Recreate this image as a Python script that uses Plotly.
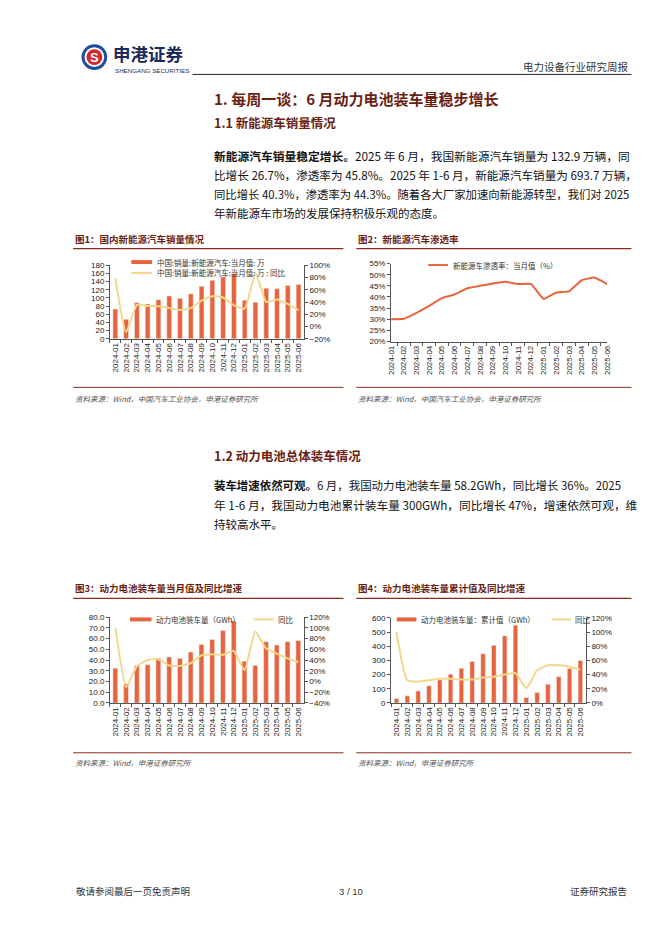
import plotly.graph_objects as go

W, H = 662, 936
def X(px): return px / W
def Y(py): return 1 - py / H

# ---------------- data ----------------
months = ["2024-01", "2024-02", "2024-03", "2024-04", "2024-05", "2024-06",
          "2024-07", "2024-08", "2024-09", "2024-10", "2024-11", "2024-12",
          "2025-01", "2025-02", "2025-03", "2025-04", "2025-05", "2025-06"]
nev_sales = [72.9, 47.7, 88.3, 85.0, 95.5, 104.9, 99.1, 110.0, 128.7, 143.0, 151.2, 159.6,
             94.4, 89.2, 123.7, 122.6, 130.7, 132.9]
nev_sales_yoy = [78.8, -9.2, 35.3, 33.5, 33.3, 30.1, 27.0, 30.0, 42.3, 49.6, 47.4, 34.5,
                 29.4, 87.1, 40.1, 44.2, 36.9, 26.7]
nev_penetration = [30.0, 30.2, 32.9, 36.0, 39.5, 41.1, 43.9, 45.0, 46.0, 46.8, 45.8, 45.9,
                   39.1, 42.0, 42.5, 47.5, 48.7, 45.8]
battery_monthly = [32.3, 18.0, 35.0, 35.6, 41.7, 42.8, 41.6, 47.5, 54.5, 59.2, 67.5, 76.3,
                   39.0, 35.0, 57.1, 54.0, 57.1, 58.2]
battery_monthly_yoy = [100.0, -11.0, 28.4, 40.0, 41.5, 30.0, 29.0, 34.0, 49.0, 51.0, 50.0, 57.0,
                       21.0, 93.0, 62.0, 52.0, 43.0, 36.0]
battery_cum = [32.3, 50.3, 85.3, 120.8, 162.5, 203.3, 245.0, 292.5, 347.0, 406.3, 473.8, 548.4,
               39.0, 74.1, 131.2, 185.2, 242.3, 300.0]
battery_cum_yoy = [100.0, 32.0, 30.0, 32.0, 34.0, 34.0, 33.0, 33.0, 36.0, 37.0, 40.0, 42.0,
                   21.0, 46.0, 53.0, 53.0, 51.0, 47.0]

# ---------------- styles ----------------
BAR = "#E8643C"
GOLD = "#F3D88C"
MAROON = "#6B1E12"
AX = "#555555"
NUM = "Liberation Sans, Arial, Noto Sans CJK SC"
CJK = "Noto Sans CJK SC, Liberation Sans"

fig = go.Figure()

# chart 1
fig.add_trace(go.Bar(x=months, y=nev_sales, xaxis="x", yaxis="y", marker_color=BAR, width=0.45))
fig.add_trace(go.Scatter(x=months, y=nev_sales_yoy, xaxis="x", yaxis="y2", mode="lines",
                         line=dict(color=GOLD, width=2, shape="spline", smoothing=0.5)))
# chart 2
fig.add_trace(go.Scatter(x=months, y=nev_penetration, xaxis="x3", yaxis="y3", mode="lines",
                         line=dict(color=BAR, width=2, shape="spline", smoothing=0.3)))
# chart 3
fig.add_trace(go.Bar(x=months, y=battery_monthly, xaxis="x4", yaxis="y4", marker_color=BAR, width=0.45))
fig.add_trace(go.Scatter(x=months, y=battery_monthly_yoy, xaxis="x4", yaxis="y5", mode="lines",
                         line=dict(color=GOLD, width=2, shape="spline", smoothing=0.4)))
# chart 4
fig.add_trace(go.Bar(x=months, y=battery_cum, xaxis="x5", yaxis="y6", marker_color=BAR, width=0.42))
fig.add_trace(go.Scatter(x=months, y=battery_cum_yoy, xaxis="x5", yaxis="y7", mode="lines",
                         line=dict(color=GOLD, width=2, shape="spline", smoothing=0.5)))

def xax(x0, x1, anchor):
    return dict(domain=[X(x0), X(x1)], anchor=anchor, type="category", categoryorder="array",
                categoryarray=months, tickangle=-90, showline=True, linecolor=AX, linewidth=1,
                ticks="outside", ticklen=3, tickcolor=AX, tickson="boundaries",
                tickfont=dict(size=8, color="#222", family=NUM), showgrid=False, zeroline=False)

def yax(y_bottom, y_top, anchor, rng, dtick, suffix="", fmt=None, side="left", overlay=None):
    d = dict(anchor=anchor, range=rng, dtick=dtick, tick0=rng[0], ticksuffix=suffix, side=side,
             showline=True, linecolor=AX, linewidth=1, ticks="outside", ticklen=3, tickcolor=AX,
             tickfont=dict(size=8, color="#222", family=NUM), showgrid=False, zeroline=False)
    if fmt:
        d["tickformat"] = fmt
    if overlay:
        d["overlaying"] = overlay
    else:
        d["domain"] = [Y(y_bottom), Y(y_top)]
    return d

layout = dict(
    width=W, height=H, margin=dict(l=0, r=0, t=0, b=0),
    paper_bgcolor="white", plot_bgcolor="white", showlegend=False, bargap=0.5,
    xaxis=xax(99.3, 296, "y"),
    yaxis=yax(330, 255.7, "x", [0, 180], 20),
    yaxis2=yax(None, None, "x", [-20, 100], 20, "%", side="right", overlay="y"),
    xaxis3=xax(384.3, 603.3, "y3"),
    yaxis3=yax(332.7, 254, "x3", [20, 55], 5, "%"),
    xaxis4=xax(99.3, 295.7, "y4"),
    yaxis4=yax(697.7, 611, "x4", [0, 80], 10, fmt=".1f"),
    yaxis5=yax(None, None, "x4", [-40, 120], 20, "%", side="right", overlay="y4"),
    xaxis5=xax(384.3, 581.7, "y6"),
    yaxis6=yax(697.7, 611.7, "x5", [0, 600], 100),
    yaxis7=yax(None, None, "x5", [0, 120], 20, "%", side="right", overlay="y6"),
)
fig.update_layout(**layout)

ann = []
shapes = []

def txt(x, y, s, size, color="#222", anchor="left", family=CJK, yanchor="middle"):
    ann.append(dict(x=X(x), y=Y(y), xref="paper", yref="paper", text=s, showarrow=False,
                    xanchor=anchor, yanchor=yanchor, align=anchor if anchor != "center" else "center",
                    font=dict(size=size, color=color, family=family)))

def hline(x0, x1, y, color, width=1):
    shapes.append(dict(type="line", xref="paper", yref="paper", x0=X(x0), x1=X(x1), y0=Y(y), y1=Y(y),
                       line=dict(color=color, width=width)))

def rect(x0, x1, y0, y1, color):
    shapes.append(dict(type="rect", xref="paper", yref="paper", x0=X(x0), x1=X(x1), y0=Y(y0), y1=Y(y1),
                       line=dict(width=0), fillcolor=color))

# ---- header / logo ----
shapes.append(dict(type="circle", xref="paper", yref="paper", x0=X(70.5), x1=X(96.5), y0=Y(58.5), y1=Y(32.5),
                   fillcolor="#1F4E9C", line=dict(width=0)))
shapes.append(dict(type="circle", xref="paper", yref="paper", x0=X(73.5), x1=X(93.5), y0=Y(55.5), y1=Y(35.5),
                   fillcolor="white", line=dict(width=0)))
shapes.append(dict(type="circle", xref="paper", yref="paper", x0=X(75.5), x1=X(91.5), y0=Y(53.5), y1=Y(37.5),
                   fillcolor="#D7262B", line=dict(width=0)))
txt(83.5, 45.5, "<b>S</b>", 13, "white", "center", "Liberation Sans")
txt(100, 42, "<b>申港证券</b>", 17.5, "#1B2A5A")
txt(102, 59, "SHENGANG SECURITIES", 6.2, "#1B2A5A", family="Liberation Sans")
hline(183, 628, 63, "#222", 1)
txt(628, 55, "电力设备行业研究周报", 10.5, "#333", "right")

# ---- section 1 ----
txt(203, 87, "<b>1. 每周一谈：6 月动力电池装车量稳步增长</b>", 15, MAROON)
txt(203, 112, "<b>1.1 新能源车销量情况</b>", 12.5, MAROON)
para1 = ["<b>新能源汽车销量稳定增长。</b>2025 年 6 月，我国新能源汽车销量为 132.9 万辆，同",
         "比增长 26.7%，渗透率为 45.8%。2025 年 1-6 月，新能源汽车销量为 693.7 万辆，",
         "同比增长 40.3%，渗透率为 44.3%。随着各大厂家加速向新能源转型，我们对 2025",
         "年新能源车市场的发展保持积极乐观的态度。"]
para1_sizes = [11.75, 11.6, 11.35, 11.5]
for i, line in enumerate(para1):
    txt(203, 145 + i * 19.3, line, para1_sizes[i], "#111")

# ---- figure 1 / 2 titles ----
txt(62, 229, "<b>图1：国内新能源汽车销量情况</b>", 9.5, MAROON)
txt(349, 229, "<b>图2：新能源汽车渗透率</b>", 9.5, MAROON)
hline(62, 336, 239, "#8A2A1A", 1.2)
hline(349, 628, 239, "#8A2A1A", 1.2)

# legends chart 1
rect(121, 142, 250.5, 254.5, BAR)
txt(145, 252.5, "中国:销量:新能源汽车:当月值: 万", 7.5, "#333")
hline(121, 142, 263.5, GOLD, 2)
txt(145, 263.5, "中国:销量:新能源汽车:当月值: 万 : 同比", 7.5, "#333")
# legend chart 2
hline(422, 442, 255.5, BAR, 2)
txt(445, 255.5, "新能源车渗透率：当月值（%）", 7.5, "#333")

hline(62, 336, 379, "#8A2A1A", 1)
hline(349, 628, 379, "#8A2A1A", 1)
txt(62, 390, "<i>资料来源：Wind，中国汽车工业协会，申港证券研究所</i>", 7.5, "#555")
txt(349, 390, "<i>资料来源：Wind，中国汽车工业协会，申港证券研究所</i>", 7.5, "#555")

# ---- section 1.2 ----
txt(203, 448, "<b>1.2 动力电池总体装车情况</b>", 12.5, MAROON)
para2 = ["<b>装车增速依然可观。</b>6 月，我国动力电池装车量 58.2GWh，同比增长 36%。2025",
         "年 1-6 月，我国动力电池累计装车量 300GWh，同比增长 47%，增速依然可观，维",
         "持较高水平。"]
para2_sizes = [11.45, 11.7, 11.5]
for i, line in enumerate(para2):
    txt(203, 478 + i * 19.3, line, para2_sizes[i], "#111")

# ---- figure 3 / 4 ----
txt(62, 582, "<b>图3：动力电池装车量当月值及同比增速</b>", 9.5, MAROON)
txt(349, 582, "<b>图4：动力电池装车量累计值及同比增速</b>", 9.5, MAROON)
hline(62, 336, 592, "#8A2A1A", 1.2)
hline(349, 628, 592, "#8A2A1A", 1.2)

rect(119.5, 141.5, 611.3, 615.3, BAR)
txt(144, 613.3, "动力电池装车量（GWh）", 7.5, "#333")
hline(245, 265, 613.3, GOLD, 2)
txt(268, 613.3, "同比", 7.5, "#333")

rect(390, 410, 611.3, 615.3, BAR)
txt(413, 613.3, "动力电池装车量：累计值（GWh）", 7.5, "#333")
hline(547, 567, 613.3, GOLD, 2)
txt(569, 613.3, "同比", 7.5, "#333")

hline(62, 336, 748, "#8A2A1A", 1)
hline(349, 628, 748, "#8A2A1A", 1)
txt(62, 758, "<i>资料来源：Wind，申港证券研究所</i>", 7.5, "#555")
txt(349, 758, "<i>资料来源：Wind，申港证券研究所</i>", 7.5, "#555")

# ---- footer ----
txt(63, 888, "敬请参阅最后一页免责声明", 9.5, "#333")
txt(344, 888, "3 / 10", 9.5, "#333", "center", "Liberation Sans")
txt(626, 888, "证券研究报告", 9.5, "#333", "right")

fig.update_layout(annotations=ann, shapes=shapes)
fig.write_html("out.html")
